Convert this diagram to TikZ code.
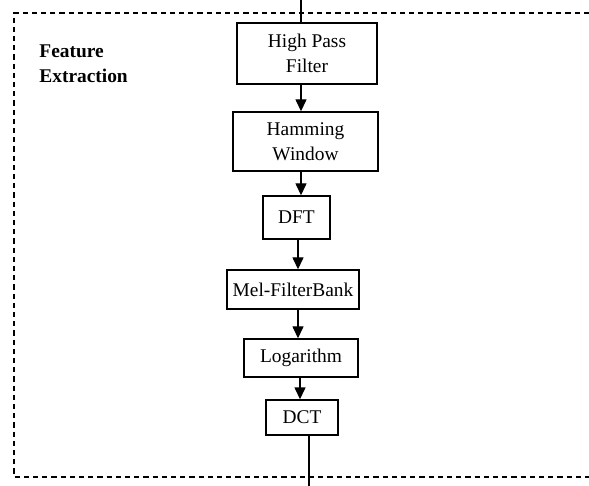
\documentclass[tikz,border=0pt]{standalone}
\usepackage{fontspec}
\setmainfont{Liberation Serif}
\usetikzlibrary{arrows.meta}
\begin{document}
\begin{tikzpicture}[x=0.5pt,y=-0.5pt,
  font=\fontsize{9.7pt}{12.5pt}\selectfont,
  blk/.style={draw, line width=0.7pt, inner sep=0pt, align=center, fill=white},
  arr/.style={line width=0.7pt, -{Triangle[length=6pt,width=5.5pt]}},
  ln/.style={line width=0.7pt},
  frame/.style={line width=0.7pt, dash pattern=on 2.6pt off 2pt}]
\useasboundingbox (0,0) rectangle (589,486);
\fill[white] (0,0) rectangle (589,486);
% frame (open on the right)
\draw[frame] (589,13) -- (14,13) -- (14,477) -- (589,477);
\node[font=\fontsize{9.7pt}{12.5pt}\bfseries\selectfont, align=left, anchor=base west, inner sep=0pt] (lab) at (39,83) {Feature\\Extraction};
% blocks
\node[blk, minimum width=70pt, minimum height=30.5pt] (hpf) at (307,53.5) {High Pass\\Filter};
\node[blk, minimum width=72.5pt, minimum height=29.5pt] (ham) at (305.5,141.5) {Hamming\\Window};
\node[blk, minimum width=33.5pt, minimum height=21.5pt] (dft) at (296.5,217.5) {DFT};
\node[blk, minimum width=66pt, minimum height=19.5pt] (mel) at (293,289.5) {Mel-FilterBank};
\node[blk, minimum width=57pt, minimum height=19pt] (log) at (301,358) {Logarithm};
\node[blk, minimum width=36pt, minimum height=17.5pt] (dct) at (302,417.5) {DCT};
% helper coordinates
\coordinate (top) at (301,0);
\coordinate (bot) at (309,486);
\coordinate (xa) at (301,0);
\coordinate (xb) at (298,0);
\coordinate (xc) at (300,0);
% connectors
\draw[ln] (top) -- (hpf.north -| top);
\draw[arr] (hpf.south -| xa) -- (ham.north -| xa);
\draw[arr] (ham.south -| xa) -- (dft.north -| xa);
\draw[arr] (dft.south -| xb) -- (mel.north -| xb);
\draw[arr] (mel.south -| xb) -- (log.north -| xb);
\draw[arr] (log.south -| xc) -- (dct.north -| xc);
\draw[ln] (dct.south -| bot) -- (bot);
\end{tikzpicture}
\end{document}
